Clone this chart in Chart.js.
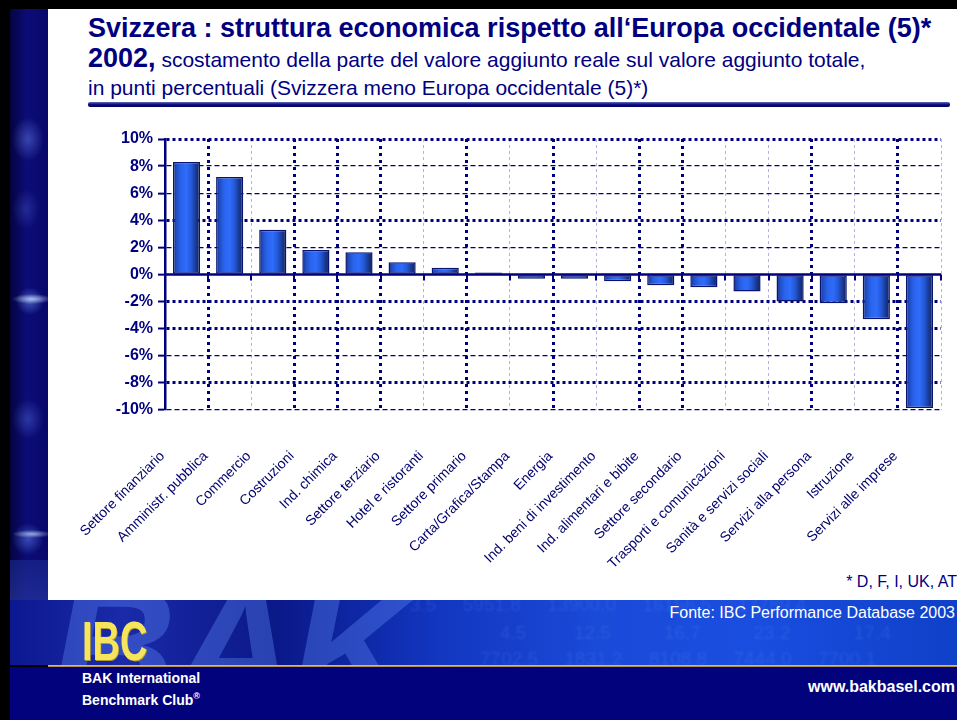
<!DOCTYPE html>
<html>
<head>
<meta charset="utf-8">
<script src="https://cdn.jsdelivr.net/npm/chart.js@4/dist/chart.umd.min.js"></script>
<style>
html,body{margin:0;padding:0;}
body{width:957px;height:720px;position:relative;overflow:hidden;background:#000;font-family:"Liberation Sans",Arial,sans-serif;}
#white{position:absolute;left:48px;top:9px;width:909px;height:591px;background:#fff;}
#strip{position:absolute;left:10px;top:9px;width:38px;height:591px;
  background:
   radial-gradient(ellipse 20px 5px at 22px 290px, rgba(200,220,255,0.8), rgba(80,120,255,0) 100%),
   radial-gradient(ellipse 14px 14px at 20px 292px, rgba(120,160,255,0.5), rgba(80,120,255,0) 100%),
   radial-gradient(ellipse 16px 22px at 18px 130px, rgba(110,140,240,0.45), rgba(80,120,255,0) 100%),
   radial-gradient(ellipse 14px 20px at 16px 200px, rgba(90,110,220,0.3), rgba(80,120,255,0) 100%),
   radial-gradient(ellipse 16px 20px at 18px 410px, rgba(90,120,230,0.4), rgba(80,120,255,0) 100%),
   radial-gradient(ellipse 20px 4px at 22px 525px, rgba(200,220,255,0.7), rgba(80,120,255,0) 100%),
   radial-gradient(ellipse 16px 16px at 18px 530px, rgba(110,150,255,0.45), rgba(80,120,255,0) 100%),
   linear-gradient(90deg,#040440 0%,#0c0c78 45%,#08086a 100%);}
#strip2{position:absolute;left:10px;top:560px;width:38px;height:40px;background:linear-gradient(180deg,#1a2a90,#2a3ca8);opacity:0.6;}
.t{position:absolute;white-space:nowrap;color:#00007f;}
#l1{left:88px;top:13px;font-size:27px;line-height:30px;font-weight:bold;}
#l2{left:88px;top:43px;font-size:21px;line-height:30px;}
#l2 b{font-size:27px;}
#l3{left:88px;top:73px;font-size:21px;line-height:30px;}
#uline{position:absolute;left:88px;top:102px;width:862px;height:5px;background:linear-gradient(180deg,#6070c0 0%,#101080 45%,#000060 100%);border-radius:2px;}
#note{position:absolute;right:0px;top:572px;font-size:16px;line-height:20px;color:#00007f;white-space:nowrap;}
#banner{position:absolute;left:10px;top:600px;width:947px;height:65px;overflow:hidden;
  background:linear-gradient(90deg,#0c1890 0%,#1a2aa8 12%,#0a1888 28%,#1236c0 45%,#1a4ad8 62%,#1a4ee0 78%,#0f40c8 100%);}
#bak{position:absolute;left:40px;top:-40px;font-size:175px;font-weight:bold;font-style:italic;color:rgba(90,130,240,0.4);letter-spacing:-6px;line-height:175px;}
.num{position:absolute;font-size:19px;color:rgba(120,170,255,0.16);white-space:nowrap;filter:blur(0.8px);}
#gold{position:absolute;left:48px;top:665px;width:909px;height:2px;background:linear-gradient(180deg,#e8c878,#a88030);}
#lower{position:absolute;left:10px;top:667px;width:947px;height:53px;background:#02027c;}
#ibc{position:absolute;left:82px;top:611px;font-size:56px;line-height:60px;font-weight:bold;color:#f6e45c;transform:scaleX(0.68);transform-origin:0 0;text-shadow:1px 1px 0 #b09a30;}
.w{position:absolute;color:#fff;white-space:nowrap;}
#bak1{left:82px;top:670px;font-size:14px;line-height:16px;font-weight:bold;}
#bak2{left:82px;top:688px;font-size:14px;line-height:16px;font-weight:bold;}
#fonte{right:2px;top:603px;font-size:16px;line-height:20px;}
#www{right:2px;top:677px;font-size:16px;line-height:20px;font-weight:bold;}
#wrap{position:absolute;left:0;top:0;width:957px;height:600px;}
</style>
</head>
<body>
<div id="white"></div>
<div id="strip"></div>
<div id="strip2"></div>
<div class="t" id="l1">Svizzera : struttura economica rispetto all‘Europa occidentale (5)*</div>
<div class="t" id="l2"><b>2002,</b> scostamento della parte del valore aggiunto reale sul valore aggiunto totale,</div>
<div class="t" id="l3">in punti percentuali (Svizzera meno Europa occidentale (5)*)</div>
<div id="uline"></div>
<div id="note">* D, F, I, UK, AT</div>
<div id="banner">
  <div id="bak">BAK</div>
  <div class="num" style="left:400px;top:-6px">3.5&nbsp;&nbsp;&nbsp;&nbsp;&nbsp;5951.8&nbsp;&nbsp;&nbsp;&nbsp;&nbsp;13900.0&nbsp;&nbsp;&nbsp;&nbsp;&nbsp;16156.5&nbsp;&nbsp;&nbsp;&nbsp;&nbsp;17789.4</div>
  <div class="num" style="left:490px;top:22px">4.5&nbsp;&nbsp;&nbsp;&nbsp;&nbsp;&nbsp;&nbsp;&nbsp;&nbsp;12.5&nbsp;&nbsp;&nbsp;&nbsp;&nbsp;&nbsp;&nbsp;&nbsp;&nbsp;&nbsp;16.7&nbsp;&nbsp;&nbsp;&nbsp;&nbsp;&nbsp;&nbsp;&nbsp;&nbsp;&nbsp;23.2&nbsp;&nbsp;&nbsp;&nbsp;&nbsp;&nbsp;&nbsp;&nbsp;&nbsp;&nbsp;&nbsp;&nbsp;17.4</div>
  <div class="num" style="left:470px;top:48px">7702.5&nbsp;&nbsp;&nbsp;&nbsp;&nbsp;1831.2&nbsp;&nbsp;&nbsp;&nbsp;&nbsp;8108.8&nbsp;&nbsp;&nbsp;&nbsp;&nbsp;7444.0&nbsp;&nbsp;&nbsp;&nbsp;&nbsp;7700.1</div>
</div>
<div id="gold"></div>
<div id="lower"></div>
<div id="ibc">IBC</div>
<div class="w" id="bak1">BAK International</div>
<div class="w" id="bak2">Benchmark Club<sup style="font-size:9px">®</sup></div>
<div class="w" id="fonte">Fonte: IBC Performance Database 2003</div>
<div class="w" id="www">www.bakbasel.com</div>
<div id="wrap"><canvas id="c" width="957" height="600"></canvas></div>
<script>
// ---- data ----
const categories = [
  "Settore finanziario", "Amministr. pubblica", "Commercio", "Costruzioni",
  "Ind. chimica", "Settore terziario", "Hotel e ristoranti", "Settore primario",
  "Carta/Grafica/Stampa", "Energia", "Ind. beni di investimento",
  "Ind. alimentari e bibite", "Settore secondario", "Trasporti e comunicazioni",
  "Sanità e servizi sociali", "Servizi alla persona", "Istruzione", "Servizi alle imprese"
];
const deviation = [
  8.3, 7.2, 3.3, 1.8, 1.65, 0.9, 0.5, 0.15,
  -0.32, -0.32, -0.49, -0.79, -0.94, -1.26, -2.0, -2.12, -3.31, -9.85
];
const yMin = -10, yMax = 10, yStep = 2;
const heavyY = [10, 4, -2, -4, -8];          // grid lines drawn heavy
const heavyX = [1, 3, 4, 5, 7, 9, 11, 12, 15, 17]; // category boundaries drawn heavy

// ---- style ----
const NAVY = '#00007f';
const BAR_PCT = 0.63;

function barFill(ctx) {
  const chart = ctx.chart, xs = chart.scales.x;
  if (!xs || !isFinite(xs.left) || !xs.width) return '#2a64f0';
  const cx = xs.getPixelForValue(ctx.dataIndex);
  const w = xs.width / categories.length * BAR_PCT;
  const g = chart.ctx.createLinearGradient(cx - w / 2, 0, cx + w / 2, 0);
  g.addColorStop(0, '#142c78');
  g.addColorStop(0.12, '#1f4cc0');
  g.addColorStop(0.3, '#2a64ee');
  g.addColorStop(0.5, '#2e6cfa');
  g.addColorStop(0.68, '#2458d8');
  g.addColorStop(0.82, '#1a3e9c');
  g.addColorStop(0.93, '#142c70');
  g.addColorStop(1, '#0e1c50');
  return g;
}

const zeroLine = {
  id: 'zeroLine',
  afterDatasetsDraw(chart) {
    const {ctx, chartArea, scales: {x, y}} = chart;
    const y0 = y.getPixelForValue(0);
    ctx.save();
    ctx.strokeStyle = NAVY;
    ctx.lineWidth = 2.5;
    ctx.beginPath();
    ctx.moveTo(chartArea.left, y0);
    ctx.lineTo(chartArea.right, y0);
    ctx.stroke();
    ctx.lineWidth = 2;
    for (let i = 0; i <= categories.length; i++) {
      const px = Math.round(x.getPixelForValue(i - 0.5));
      ctx.beginPath();
      ctx.moveTo(px, y0);
      ctx.lineTo(px, y0 + 6);
      ctx.stroke();
    }
    ctx.restore();
  }
};

new Chart(document.getElementById('c'), {
  type: 'bar',
  data: {
    labels: categories,
    datasets: [{
      data: deviation,
      backgroundColor: barFill,
      borderColor: '#0a1470',
      borderWidth: 1.5,
      borderSkipped: false,
      categoryPercentage: 1,
      barPercentage: BAR_PCT
    }]
  },
  options: {
    responsive: false,
    animation: false,
    events: [],
    layout: {padding: {left: 105, right: 16, top: 139, bottom: 0}},
    plugins: {legend: {display: false}, tooltip: {enabled: false}},
    scales: {
      x: {
        offset: true,
        grid: {
          offset: true,
          drawTicks: false,
          color: c => c.index === 0 ? 'rgba(0,0,0,0)' : (heavyX.includes(c.index) ? NAVY : '#b4b4e2'),
          lineWidth: c => heavyX.includes(c.index) ? 3 : 1
        },
        border: {display: false, dash: c => heavyX.includes(c.index) ? [3, 4] : [3, 3]},
        ticks: {
          autoSkip: false, minRotation: 45, maxRotation: 45,
          color: '#00006c', font: {family: '"Liberation Sans", Arial', size: 14},
          padding: 38, labelOffset: -24
        },
        afterFit(s) { s.height = 190; s.paddingLeft = 0; s.paddingRight = 0; }
      },
      y: {
        min: yMin, max: yMax,
        ticks: {
          stepSize: yStep,
          callback: v => v + '%',
          color: NAVY,
          font: {family: '"Liberation Sans", Arial', size: 16, weight: 'bold'},
          padding: 5
        },
        grid: {
          color: c => (c.tick && c.tick.value === 0) ? 'rgba(0,0,0,0)' : NAVY,
          lineWidth: c => (c.tick && heavyY.includes(c.tick.value)) ? 3 : 1.3,
          tickLength: 7, tickColor: NAVY, tickWidth: 2
        },
        border: {
          color: NAVY, width: 2.5,
          dash: c => (c.tick && heavyY.includes(c.tick.value)) ? [3, 3] : [5, 3]
        },
        afterFit(s) { s.width = 60; }
      }
    }
  },
  plugins: [zeroLine]
});
</script>
</body>
</html>
